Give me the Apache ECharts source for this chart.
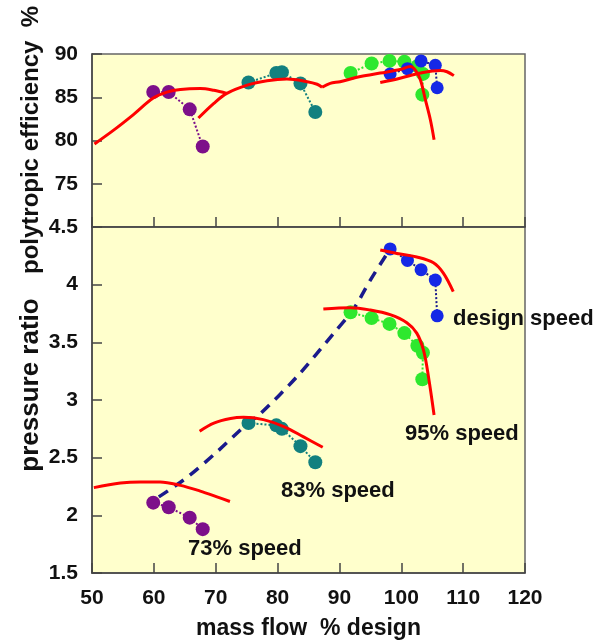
<!DOCTYPE html>
<html>
<head>
<meta charset="utf-8">
<script src="https://cdn.jsdelivr.net/npm/echarts@6/dist/echarts.min.js"></script>
<style>
  html, body { margin: 0; padding: 0; background: #ffffff; }
  #chart { width: 600px; height: 643px; }
</style>
</head>
<body>
<div id="chart"></div>
<script>
// Measured test points per speed line: mass flow (% design), efficiency (%), pressure ratio
const flow73 = [59.9, 62.4, 65.8, 67.9];
const eff73 = [85.6, 85.6, 83.6, 79.3];
const pr73 = [2.11, 2.07, 1.98, 1.88];

const flow83 = [75.3, 79.8, 80.7, 83.7, 86.1];
const eff83 = [86.7, 87.8, 87.9, 86.6, 83.3];
const pr83 = [2.80, 2.78, 2.75, 2.60, 2.46];

const flow95 = [91.8, 95.2, 98.1, 100.5, 102.6, 103.5, 103.4];
const eff95 = [87.8, 88.9, 89.2, 89.1, 88.6, 87.7, 85.3];
const pr95 = [3.76, 3.71, 3.66, 3.58, 3.47, 3.41, 3.18];

const flowDesign = [98.2, 101.0, 103.2, 105.5, 105.8];
const effDesign = [87.7, 88.3, 89.2, 88.7, 86.1];
const prDesign = [4.31, 4.21, 4.13, 4.04, 3.73];

// Predicted characteristics (red curves)
const predEffFlow73 = [50.4, 53.5, 56.7, 59.9, 62.1, 64.3, 67.5, 69.7, 71.8];
const predEff73 = [79.6, 81.2, 83.0, 84.9, 85.6, 85.9, 86.0, 85.8, 85.45];
const predEffFlow83 = [67.2, 69.7, 71.8, 75.1, 78.3, 81.5, 84.8, 86.4, 87.2];
const predEff83 = [82.6, 84.3, 85.45, 86.4, 86.9, 87.1, 86.8, 86.5, 86.15];
const predEffFlow95 = [87.2, 88.5, 90.1, 93.4, 96.6, 99.8, 101.5, 102.3, 103.1, 103.9, 104.7, 105.3];
const predEff95 = [86.15, 86.6, 86.8, 87.4, 87.8, 88.2, 88.55, 88.1, 87.0, 84.7, 82.4, 80.1];
const predEffFlowDesign = [96.6, 99.8, 103.1, 106.3, 107.4, 108.5];
const predEffDesign = [86.7, 87.2, 87.8, 88.1, 87.95, 87.5];

const predPrFlow73 = [50.3, 54.6, 57.8, 61.0, 64.3, 67.5, 70.2, 72.3];
const predPr73 = [2.24, 2.28, 2.29, 2.29, 2.26, 2.21, 2.16, 2.12];
const predPrFlow83 = [67.4, 69.7, 72.4, 74.5, 77.7, 81.0, 84.2, 87.3];
const predPr83 = [2.73, 2.80, 2.84, 2.85, 2.83, 2.77, 2.68, 2.59];
const predPrFlow95 = [87.4, 91.8, 95.0, 98.2, 100.9, 102.5, 103.6, 104.4, 105.3];
const predPr95 = [3.79, 3.80, 3.78, 3.74, 3.67, 3.58, 3.43, 3.20, 2.87];
const predPrFlowDesign = [96.6, 99.3, 102.5, 105.2, 106.8, 108.4];
const predPrDesign = [4.30, 4.27, 4.24, 4.19, 4.10, 3.94];

// Surge line through the stall points
const surgeFlow = [60.8, 65.4, 70.2, 74.8, 77.2, 83.1, 89.1, 92.3, 95.0, 98.2];
const surgePr = [2.16, 2.33, 2.55, 2.78, 2.88, 3.20, 3.58, 3.79, 4.04, 4.31];

// Axis ticks
const flowTicks = { min: 50, max: 120, step: 10 };
const effTicks = { min: 70, max: 90, step: 5 };
const prTicks = { min: 1.5, max: 4.5, step: 0.5 };

const speedLabels = ['73% speed', '83% speed', '95% speed', 'design speed'];

const FONT = "'Liberation Sans', Arial, Helvetica, sans-serif";
const pairs = (xs, ys) => xs.map((x, i) => [x, ys[i]]);

const speedColors = ['#7d0f8a', '#12807f', '#2ee82e', '#1528e6'];
const measured = [
  [flow73, eff73, pr73],
  [flow83, eff83, pr83],
  [flow95, eff95, pr95],
  [flowDesign, effDesign, prDesign]
];
const predEff = [
  [predEffFlow73, predEff73], [predEffFlow83, predEff83],
  [predEffFlow95, predEff95], [predEffFlowDesign, predEffDesign]
];
const predPr = [
  [predPrFlow73, predPr73], [predPrFlow83, predPr83],
  [predPrFlow95, predPr95], [predPrFlowDesign, predPrDesign]
];

const series = [];
measured.forEach((m, i) => {
  [1, 2].forEach((k) => {
    series.push({
      type: 'line',
      xAxisIndex: k - 1,
      yAxisIndex: k - 1,
      data: pairs(m[0], m[k]),
      symbol: 'circle',
      symbolSize: i === 3 ? 13 : 14,
      itemStyle: { color: speedColors[i] },
      lineStyle: { color: i === 3 ? '#1a1a8c' : speedColors[i], width: 2, type: 'dotted' },
      z: 3
    });
  });
});
series.push({
  type: 'line',
  xAxisIndex: 1,
  yAxisIndex: 1,
  data: pairs(surgeFlow, surgePr),
  showSymbol: false,
  smooth: 0.3,
  lineStyle: { color: '#1a1a8c', width: 3.5, type: [11, 8] },
  z: 2
});
predEff.forEach((c) => {
  series.push({
    type: 'line', xAxisIndex: 0, yAxisIndex: 0,
    data: pairs(c[0], c[1]), showSymbol: false, smooth: 0.35,
    lineStyle: { color: '#ff0000', width: 3 }, z: 4
  });
});
predPr.forEach((c) => {
  series.push({
    type: 'line', xAxisIndex: 1, yAxisIndex: 1,
    data: pairs(c[0], c[1]), showSymbol: false, smooth: 0.35,
    lineStyle: { color: '#ff0000', width: 3 }, z: 4
  });
});

const axisLine = { show: true, lineStyle: { color: '#444', width: 1.5 } };
const tick = { show: true, inside: true, length: 10, lineStyle: { color: '#444', width: 1.5 } };
const tickLabel = { fontFamily: FONT, fontWeight: 'bold', fontSize: 21, color: '#111' };

const chart = echarts.init(document.getElementById('chart'), null, { renderer: 'canvas' });
chart.setOption({
  animation: false,
  backgroundColor: '#ffffff',
  grid: [
    { left: 92, top: 54, width: 433, height: 173, show: true, backgroundColor: '#ffffcc', borderColor: '#666', borderWidth: 1.5, outerBoundsMode: 'none', containLabel: false },
    { left: 92, top: 227, width: 433, height: 346, show: true, backgroundColor: '#ffffcc', borderColor: '#666', borderWidth: 1.5, outerBoundsMode: 'none', containLabel: false }
  ],
  xAxis: [
    {
      gridIndex: 0, type: 'value', min: flowTicks.min, max: flowTicks.max, interval: flowTicks.step,
      axisLine, axisTick: tick, axisLabel: { show: false }, splitLine: { show: false }
    },
    {
      gridIndex: 1, type: 'value', min: flowTicks.min, max: flowTicks.max, interval: flowTicks.step,
      axisLine, axisTick: tick, splitLine: { show: false },
      axisLabel: Object.assign({ margin: 15 }, tickLabel),
      name: 'mass flow  % design', nameLocation: 'middle', nameGap: 44,
      nameTextStyle: { fontFamily: FONT, fontWeight: 'bold', fontSize: 23, color: '#111' }
    }
  ],
  yAxis: [
    {
      gridIndex: 0, type: 'value', min: effTicks.min, max: effTicks.max, interval: effTicks.step,
      axisLine, axisTick: tick, splitLine: { show: false },
      axisLabel: Object.assign({ margin: 14, formatter: (v) => (v === effTicks.min ? '' : String(v)) }, tickLabel)
    },
    {
      gridIndex: 1, type: 'value', min: prTicks.min, max: prTicks.max, interval: prTicks.step,
      axisLine, axisTick: tick, splitLine: { show: false },
      axisLabel: Object.assign({ margin: 14 }, tickLabel)
    }
  ],
  graphic: [
    {
      type: 'text', x: 31, y: 140, rotation: Math.PI / 2,
      style: { text: 'polytropic efficiency  %', font: `bold 24px ${FONT}`, fill: '#111', align: 'center', verticalAlign: 'middle' }
    },
    {
      type: 'text', x: 31, y: 385, rotation: Math.PI / 2,
      style: { text: 'pressure ratio', font: `bold 26px ${FONT}`, fill: '#111', align: 'center', verticalAlign: 'middle' }
    },
    { type: 'text', x: 188, y: 549, style: { text: speedLabels[0], font: `bold 22px ${FONT}`, fill: '#111', align: 'left', verticalAlign: 'middle' } },
    { type: 'text', x: 281, y: 491, style: { text: speedLabels[1], font: `bold 22px ${FONT}`, fill: '#111', align: 'left', verticalAlign: 'middle' } },
    { type: 'text', x: 405, y: 434, style: { text: speedLabels[2], font: `bold 22px ${FONT}`, fill: '#111', align: 'left', verticalAlign: 'middle' } },
    { type: 'text', x: 453, y: 319, style: { text: speedLabels[3], font: `bold 22px ${FONT}`, fill: '#111', align: 'left', verticalAlign: 'middle' } }
  ],
  series
});
</script>
</body>
</html>
